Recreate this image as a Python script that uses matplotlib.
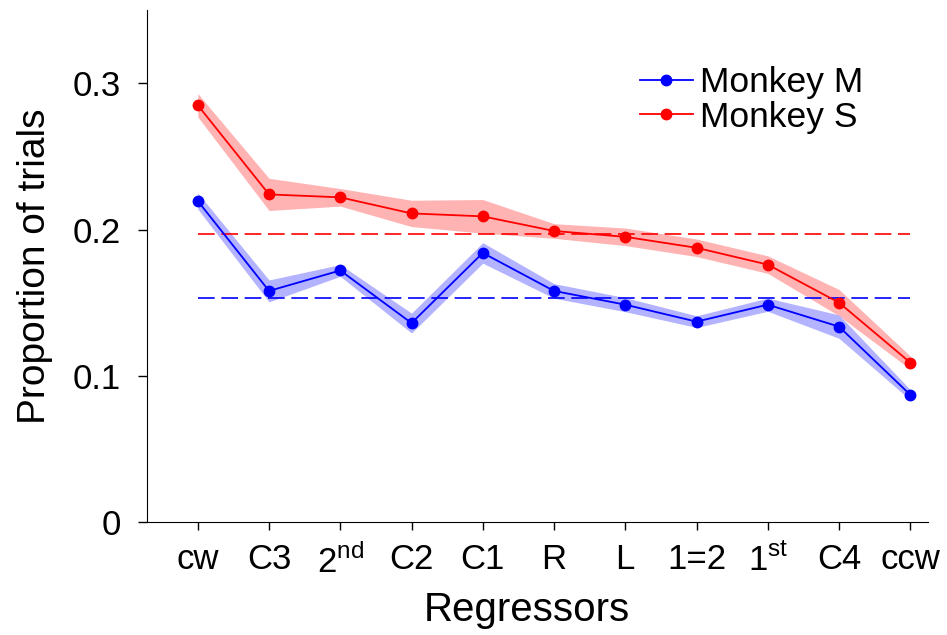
import numpy as np
import matplotlib
matplotlib.use('Agg')
import matplotlib.pyplot as plt

# Regressor categories along the x axis
regressors = ['cw', 'C3', r'2$^{\rm nd}$', 'C2', 'C1', 'R', 'L', '1=2', r'1$^{\rm st}$', 'C4', 'ccw']

# Mean proportion of trials and half-width of the shaded error band
monkey_m = [0.2195, 0.158, 0.172, 0.136, 0.184, 0.158, 0.1486, 0.137, 0.1486, 0.1336, 0.087]
monkey_m_err = [0.0055, 0.0075, 0.004, 0.0068, 0.007, 0.005, 0.0048, 0.004, 0.0045, 0.008, 0.0035]
monkey_s = [0.285, 0.224, 0.222, 0.211, 0.209, 0.199, 0.195, 0.1875, 0.176, 0.150, 0.109]
monkey_s_err = [0.008, 0.011, 0.006, 0.009, 0.0115, 0.005, 0.006, 0.006, 0.006, 0.009, 0.0045]

# Chance levels (dashed reference lines)
chance_m = 0.153
chance_s = 0.197

plt.rcParams['font.family'] = ['Liberation Sans', 'DejaVu Sans']
plt.rcParams['mathtext.fontset'] = 'custom'
plt.rcParams['mathtext.rm'] = 'Liberation Sans'

fig = plt.figure(figsize=(9.47, 6.35), dpi=100)
ax = fig.add_axes([0.155, 0.178, 0.825, 0.806])

x = np.arange(len(regressors))
m = np.array(monkey_m)
s = np.array(monkey_s)
me = np.array(monkey_m_err)
se = np.array(monkey_s_err)

ax.fill_between(x, s - se, s + se, color='#ffb3b3', lw=0)
ax.fill_between(x, m - me, m + me, color='#b3b3ff', lw=0)
ax.plot([x[0], x[-1]], [chance_s, chance_s], color='r', ls=(0, (10, 4)), lw=1.2)
ax.plot([x[0], x[-1]], [chance_m, chance_m], color='b', ls=(0, (10, 4)), lw=1.2)
ax.plot(x, m, color='b', marker='o', ms=7.5, lw=1.3, label='Monkey M')
ax.plot(x, s, color='r', marker='o', ms=7.5, lw=1.3, label='Monkey S')

ax.set_xlim(-0.716, 10.25)
ax.set_ylim(0, 0.35)
ax.set_yticks([0, 0.1, 0.2, 0.3])
ax.set_yticklabels(['0', '0.1', '0.2', '0.3'], fontsize=25)
ax.set_xticks(x)
ax.set_xticklabels(regressors, fontsize=25)
ax.tick_params(axis='x', direction='out', length=5.5, pad=10, width=1)
ax.tick_params(axis='y', direction='out', length=6.5, pad=12, width=1)

for side in ['top', 'right']:
    ax.spines[side].set_visible(False)

ax.set_xlabel('Regressors', fontsize=29, labelpad=8, x=0.487)
ax.set_ylabel('Proportion of trials', fontsize=28, labelpad=14)

ax.legend(loc='upper left', bbox_to_anchor=(0.631, 0.891), frameon=False,
          fontsize=25.5, handlelength=1.5, handletextpad=0.2, labelspacing=0.05,
          borderpad=0, borderaxespad=0)

fig.savefig('out.png', dpi=100)
